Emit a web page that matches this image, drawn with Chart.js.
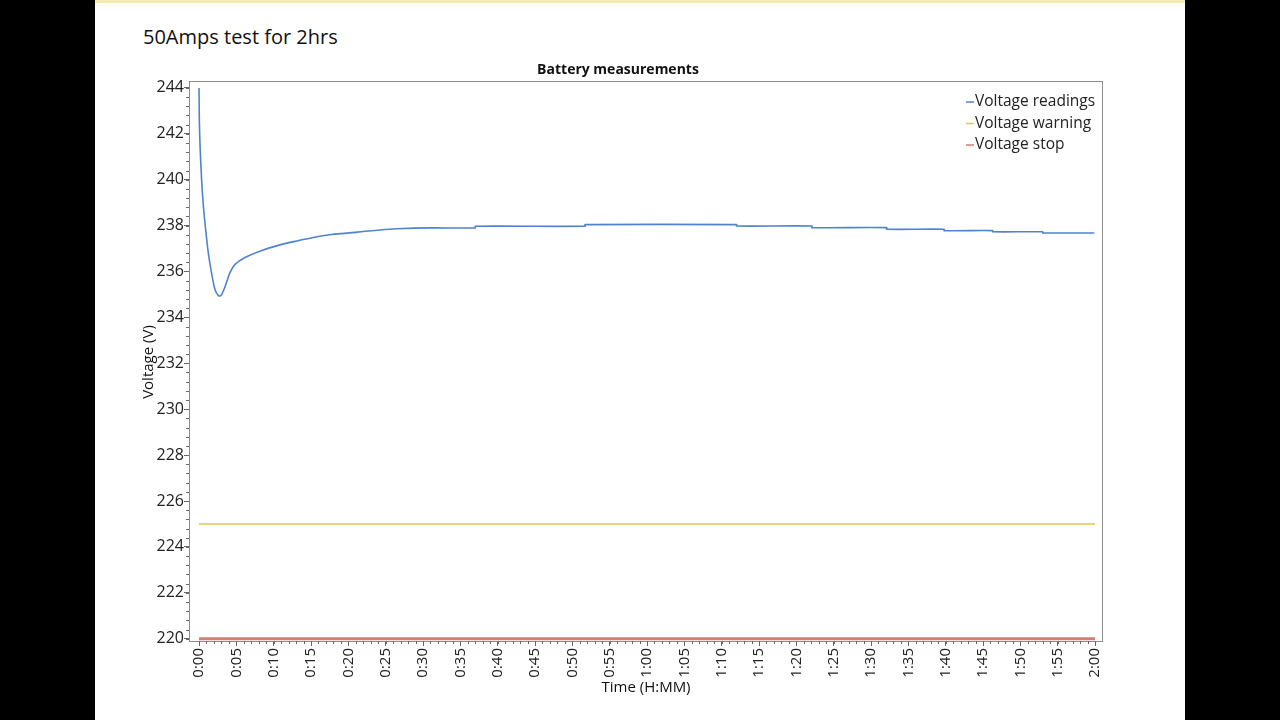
<!DOCTYPE html>
<html><head><meta charset="utf-8">
<script src="https://cdn.jsdelivr.net/npm/chart.js@4/dist/chart.umd.min.js"></script>
<style>
html,body{margin:0;padding:0;background:#000;width:1280px;height:720px;overflow:hidden}
#page{position:absolute;left:95px;top:0;width:1090px;height:720px;background:#fff}
#topline{position:absolute;left:95px;top:0;width:1090px;height:3px;background:#f3eeb0}
#heading{position:absolute;left:143px;top:23px;font:20px "Open Sans";color:#111;white-space:nowrap}
#wrap{position:absolute;left:0;top:0;width:1280px;height:720px}
</style></head>
<body>
<div id="page"></div><div id="topline"></div>
<div id="heading">50Amps test for 2hrs</div>
<div id="wrap"><canvas id="c" width="1280" height="720"></canvas></div>
<script>
// ---- data (time in minutes) ----
const readTime = [0, 0.05, 0.15, 0.35, 0.6, 0.9, 1.25, 1.7, 2.15, 2.6, 2.95, 3.5, 4.15, 4.8, 6.1, 8.6, 10.85, 13.1, 15.3, 17.5, 19.8, 22.0, 24.2, 26.5, 30.9, 37.0, 37.0, 51.7, 51.7, 72.0, 72.0, 82.1, 82.1, 92.1, 92.1, 99.8, 99.8, 106.3, 106.3, 113.0, 113.0, 119.9];
const readVolt = [244.0, 242.5, 241.4, 240.0, 238.8, 237.8, 236.8, 235.9, 235.2, 234.95, 234.95, 235.35, 235.95, 236.3, 236.6, 236.94, 237.16, 237.33, 237.48, 237.60, 237.67, 237.74, 237.81, 237.86, 237.90, 237.90, 237.97, 237.97, 238.04, 238.04, 237.98, 237.98, 237.91, 237.91, 237.84, 237.84, 237.78, 237.78, 237.73, 237.73, 237.68, 237.68];
const warnTime = [0, 120];
const warnVolt = [225, 225];
const stopTime = [0, 120];
const stopVolt = [220, 220];
const seriesNames = ["Voltage readings", "Voltage warning", "Voltage stop"];
const yTicks = [220, 222, 224, 226, 228, 230, 232, 234, 236, 238, 240, 242, 244];
const xTicks = [0,5,10,15,20,25,30,35,40,45,50,55,60,65,70,75,80,85,90,95,100,105,110,115,120];
const xTickLabels = ["0:00","0:05","0:10","0:15","0:20","0:25","0:30","0:35","0:40","0:45","0:50","0:55","1:00","1:05","1:10","1:15","1:20","1:25","1:30","1:35","1:40","1:45","1:50","1:55","2:00"];
const colors = ["#4f84cc", "#e2c455", "#d3806f"];

const pts = (xs, ys) => xs.map((x, i) => ({x, y: ys[i]}));
const FONT = "Open Sans";

const overlay = {
  id: 'overlay',
  afterDraw(chart) {
    const {ctx, chartArea: a, scales: {x, y}} = chart;
    ctx.save();
    ctx.strokeStyle = '#8c8c8c'; ctx.lineWidth = 1;
    ctx.strokeRect(a.left + 0.5, a.top + 0.5, a.right - a.left - 1, a.bottom - a.top);
    ctx.beginPath();
    for (let v = 220; v <= 244.01; v += 0.4) {
      const p = Math.round(y.getPixelForValue(v)) + 0.5;
      ctx.moveTo(a.left - 3, p); ctx.lineTo(a.left, p);
    }
    for (let t = 0; t <= 120; t += 1) {
      const p = Math.round(x.getPixelForValue(t)) + 0.5;
      ctx.moveTo(p, a.bottom); ctx.lineTo(p, a.bottom + 3);
    }
    ctx.strokeStyle = '#666'; ctx.stroke();
    ctx.fillStyle = '#111';
    ctx.font = 'bold 14px "' + FONT + '"';
    ctx.textAlign = 'center'; ctx.textBaseline = 'middle';
    ctx.fillText('Battery measurements', 618, 70);
    ctx.font = '15px "' + FONT + '"';
    ctx.fillText('Time (H:MM)', 646, 688);
    ctx.save();
    ctx.translate(149, 362); ctx.rotate(-Math.PI / 2);
    ctx.fillText('Voltage (V)', 0, 0);
    ctx.restore();
    ctx.textAlign = 'left';
    ctx.font = '15.5px "' + FONT + '"';
    seriesNames.forEach((n, i) => {
      const yy = 102 + i * 21.5;
      ctx.strokeStyle = colors[i]; ctx.lineWidth = 1.5;
      ctx.beginPath(); ctx.moveTo(966, yy); ctx.lineTo(974, yy); ctx.stroke();
      ctx.fillStyle = '#222';
      ctx.fillText(n, 975, yy);
    });
    ctx.restore();
  }
};

new Chart(document.getElementById('c'), {
  type: 'line',
  data: {
    datasets: [
      {label: seriesNames[0], data: pts(readTime, readVolt), borderColor: colors[0], borderWidth: 1.6, pointRadius: 0, tension: 0.3},
      {label: seriesNames[1], data: pts(warnTime, warnVolt), borderColor: colors[1], borderWidth: 1.6, pointRadius: 0},
      {label: seriesNames[2], data: pts(stopTime, stopVolt), borderColor: colors[2], borderWidth: 3, pointRadius: 0}
    ]
  },
  options: {
    responsive: false, animation: false,
    layout: {padding: {left: 0, right: 177, top: 81, bottom: 0}},
    plugins: {legend: {display: false}, title: {display: false}, tooltip: {enabled: false}},
    scales: {
      x: {
        type: 'linear', min: -1.34, max: 121.07,
        afterFit(s) { s.height = 79; },
        afterBuildTicks(s) { s.ticks = xTicks.map(v => ({value: v})); },
        border: {display: false},
        grid: {drawOnChartArea: false, tickLength: 5, color: '#666'},
        ticks: {autoSkip: false, minRotation: 90, maxRotation: 90, padding: 2, color: '#222',
          font: {family: FONT, size: 15},
          callback: (v) => xTickLabels[xTicks.indexOf(v)] }
      },
      y: {
        type: 'linear', min: 219.9, max: 244.3,
        afterFit(s) { s.width = 189; },
        afterBuildTicks(s) { s.ticks = yTicks.map(v => ({value: v})); },
        border: {display: false},
        grid: {drawOnChartArea: false, tickLength: 5, color: '#666'},
        ticks: {padding: 0, color: '#222', font: {family: FONT, size: 16},
          callback: (v) => String(v)}
      }
    }
  },
  plugins: [overlay]
});
</script>
</body></html>
